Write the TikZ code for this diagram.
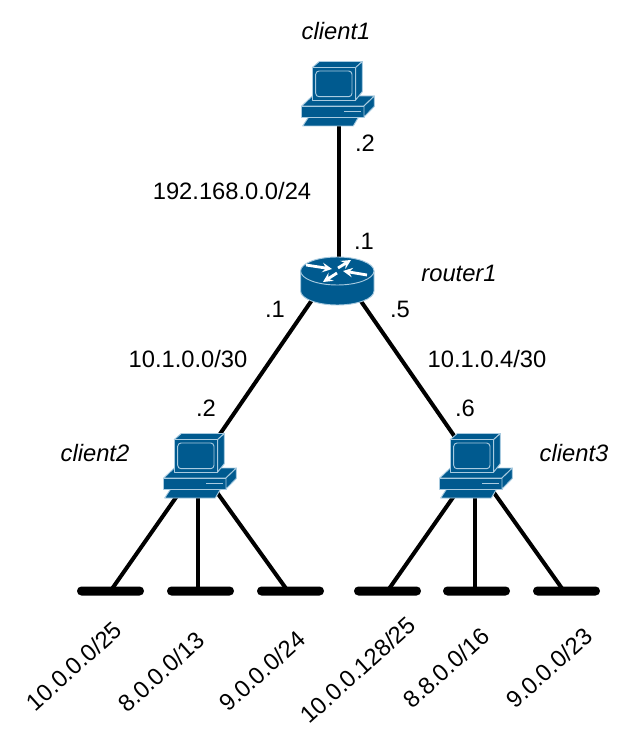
\documentclass[tikz,border=0pt]{standalone}
\usepackage{fontspec}
\setmainfont{Liberation Sans}
\usetikzlibrary{arrows,shapes,positioning}
\definecolor{ciscoBlue}{HTML}{005A8F}
\definecolor{ciscoEdge}{HTML}{A9CBE0}
\tikzstyle{link} = [line width=3pt, draw=black]
\tikzstyle{hostNode} = [inner sep=0pt, minimum size=0pt]
\tikzstyle{routerNode} = [inner sep=0pt, minimum width=15pt, minimum height=15pt]
\tikzstyle{netBar} = [
        fill=black,
        rounded corners=3.3pt,
        inner sep=0pt,
        minimum width=50.25pt,
        minimum height=6.75pt
    ]
\tikzstyle{ipLabel} = [inner sep=0pt, font=\fontsize{17.8}{20}\selectfont]
\tikzstyle{nameLabel} = [ipLabel, font=\fontsize{17.8}{20}\selectfont\itshape]
\tikzstyle{netLabel} = [ipLabel, rotate=42]
\tikzstyle{iconBody} = [fill=ciscoBlue, draw=ciscoEdge, line width=0.7pt, line join=round]
\tikzstyle{routerArrow} = [draw=white, line width=2.1pt, ->, >=stealth]
\tikzset{
    pics/pcIcon/.style={code={
        % keyboard
        \draw [iconBody] (-33.3,32) -- (-27.7,23.5) -- (22.3,23.5) -- (17.3,32) -- cycle;
        % base
        \draw [iconBody] (-34.3,12) -- (-23.7,2) -- (38.3,2) -- (28,12) -- cycle;
        \draw [iconBody] (-34.3,12) rectangle (28,23);
        \draw [iconBody] (28,12) -- (38.3,2) -- (38.3,12.5) -- (28,23) -- cycle;
        \draw [draw=ciscoEdge, line width=1.1pt] (8.3,17.7) -- (24.7,17.7);
        % monitor
        \draw [iconBody] (-23.7,-26.5) -- (-16.7,-32.5) -- (26.3,-32.5) -- (19.7,-26.5) -- cycle;
        \draw [iconBody] (19.7,-26.5) -- (26.3,-32.5) -- (26.3,-2.3) -- (19.7,6) -- cycle;
        \draw [iconBody] (-23.7,-26.5) rectangle (19.7,6);
        \draw [draw=ciscoEdge, line width=0.7pt, rounded corners=2.5pt] (-20.3,-23) rectangle (16,2.7);
    }},
    pics/routerIcon/.style={code={
        \draw [iconBody] (-35.4,-9) -- (-35.4,11) arc [start angle=180, end angle=360, x radius=36.7, y radius=-14]
            -- (38,-9) -- cycle;
        \draw [iconBody] (1.3,-9) ellipse [x radius=36.7, y radius=14];
        \draw [routerArrow] (-30,-15) -- (-4,-11);
        \draw [routerArrow] (2,-12) -- (15,-20);
        \draw [routerArrow] (31,-5) -- (7,-9);
        \draw [routerArrow] (1,-7) -- (-13,2);
    }}
}
\begin{document}
\begin{tikzpicture}[x=0.75pt, y=-0.75pt, node distance=139.5pt]
    \useasboundingbox (0,0) rectangle (628,748);
    \node (client1) [hostNode] at (336,94) {};
    \node (router1) [routerNode, below of = client1] {};
    \node (client2) [hostNode, below of = router1, xshift=-103.5pt] {};
    \node (client3) [hostNode, below of = router1, xshift=104.25pt] {};
    \foreach \name/\x in {net1/110.5, net2/200.5, net3/290.5, net4/387.5, net5/476.5, net6/566.5}
        \node (\name) [netBar] at (\x,591) {};
    % links go under the icons
    \draw [link] ([xshift=2.25pt]client1.center) -- ([xshift=2.25pt]router1.center);
    \draw [link] (router1.west) -- (client2.center);
    \draw [link] (router1.east) -- (client3.center);
    \draw [link] (client2.center) -- (net1.center);
    \draw [link] (client2.center) -- (client2.center |- net2.center);
    \draw [link] (client2.center) -- ([xshift=-2pt]net3.center);
    \draw [link] (client3.center) -- (net4.center);
    \draw [link] (client3.center) -- (client3.center |- net5.center);
    \draw [link] (client3.center) -- ([xshift=-2pt]net6.center);
    \pic at (client1) {pcIcon};
    \pic at (client2) {pcIcon};
    \pic at ([xshift=-0.75pt]client3.center) {pcIcon};
    \pic at (router1) {routerIcon};
    \node (client1Name) [nameLabel] at (336,31) {client1};
    \node (router1Name) [nameLabel] at (459,273) {router1};
    \node (client2Name) [nameLabel] at (95,453) {client2};
    \node (client3Name) [nameLabel] at (574,453) {client3};
    \node (lan1) [ipLabel] at (232,191) {192.168.0.0/24};
    \node (lan2) [ipLabel] at (188,359) {10.1.0.0/30};
    \node (lan3) [ipLabel] at (487,359) {10.1.0.4/30};
    \node (host1) [ipLabel] at (365,143) {.2};
    \node (host2) [ipLabel] at (364,241) {.1};
    \node (host3) [ipLabel] at (275,309) {.1};
    \node (host4) [ipLabel] at (400,309) {.5};
    \node (host5) [ipLabel] at (206,408) {.2};
    \node (host6) [ipLabel] at (465,408) {.6};
    \node (netName1) [netLabel] at (74,666) {10.0.0.0/25};
    \node (netName2) [netLabel] at (161,672) {8.0.0.0/13};
    \node (netName3) [netLabel] at (262,671) {9.0.0.0/24};
    \node (netName4) [netLabel] at (358,670) {10.0.0.128/25};
    \node (netName5) [netLabel] at (446,668) {8.8.0.0/16};
    \node (netName6) [netLabel] at (549,668) {9.0.0.0/23};
\end{tikzpicture}
\end{document}
